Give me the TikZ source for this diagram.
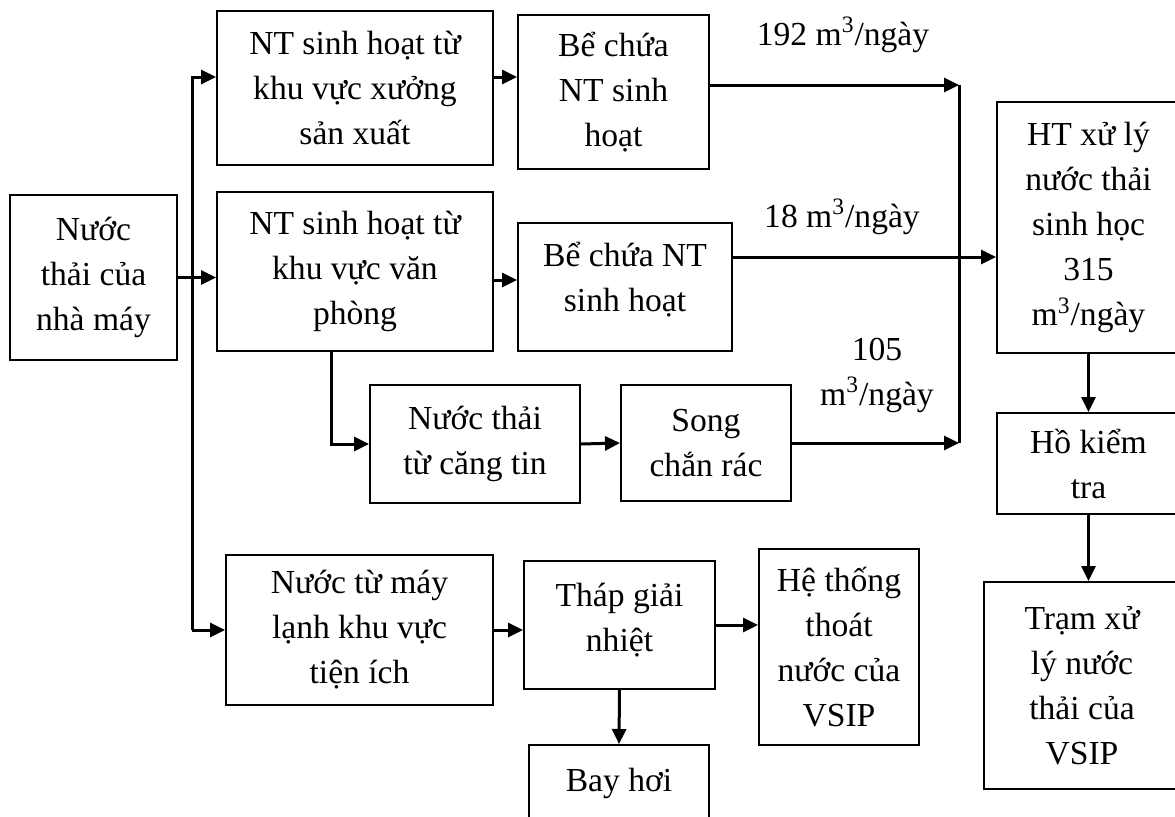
\documentclass[tikz,border=0pt]{standalone}
\usepackage{fontspec}
\setmainfont{Liberation Serif}
\usetikzlibrary{arrows.meta}
\begin{document}
\begin{tikzpicture}[x=0.5pt,y=-0.5pt,
  box/.style={draw, line width=1pt, align=center, inner sep=0pt,
    font=\fontsize{16.8}{22.5}\selectfont},
  lbl/.style={align=center, inner sep=0pt, font=\fontsize{16.8}{22.5}\selectfont},
  arr/.style={-{Triangle[length=7.5pt,width=7pt]}, line width=1.5pt},
  ln/.style={line width=1.5pt}]
\useasboundingbox (0,0) rectangle (1175,816);
% boxes
\node[box, minimum width=83.5pt, minimum height=82.5pt] (b1) at (93.5,277.5) {Nước\\thải của\\nhà máy};
\node[box, minimum width=138pt, minimum height=77pt] (nt1) at (355,88) {NT sinh hoạt từ\\khu vực xưởng\\sản xuất};
\node[box, minimum width=95.5pt, minimum height=77pt] (be1) at (613.5,92) {Bể chứa\\NT sinh\\hoạt};
\node[box, minimum width=138pt, minimum height=79.5pt] (nt2) at (355,271.5) {NT sinh hoạt từ\\khu vực văn\\phòng};
\node[box, minimum width=107pt, minimum height=64pt] (be2) at (625,287) {Bể chứa NT\\sinh hoạt\\[-12.5pt]\mbox{}};
\node[box, minimum width=105pt, minimum height=59pt] (ct) at (475,444) {Nước thải\\từ căng tin};
\node[box, minimum width=85pt, minimum height=58pt] (sc) at (706,443) {Song\\chắn rác};
\node[box, minimum width=91.5pt, minimum height=125.5pt] (ht) at (1088.5,227.5) {HT xử lý\\nước thải\\sinh học\\315\\m\textsuperscript{3}/ngày};
\node[box, minimum width=91.5pt, minimum height=50.5pt] (ho) at (1088.5,463.5) {Hồ kiểm\\tra};
\node[box, minimum width=98pt, minimum height=103.5pt] (tr) at (1082,685.5) {Trạm xử\\lý nước\\thải của\\VSIP};
\node[box, minimum width=133.5pt, minimum height=75pt] (ml) at (359.5,630) {Nước từ máy\\lạnh khu vực\\tiện ích};
\node[box, minimum width=95.5pt, minimum height=64pt] (th) at (619.5,625) {Tháp giải\\nhiệt\\[-14.5pt]\mbox{}};
\node[box, minimum width=80pt, minimum height=98pt] (he) at (839,647) {Hệ thống\\thoát\\nước của\\VSIP};
\node[box, minimum width=90pt, minimum height=38.5pt] (bh) at (619,783.5) {Bay hơi};
% flow labels
\node[lbl] (l192) at (843,35) {192 m\textsuperscript{3}/ngày};
\node[lbl] (l18) at (842,217) {18 m\textsuperscript{3}/ngày};
\node[lbl] (l105) at (877,375) {105\\m\textsuperscript{3}/ngày};
% junction coordinates
\coordinate (trtop) at (192,77);
\coordinate (jtop) at (959,85);
% connectors
\draw[arr] (b1.east) -- (b1.east -| nt2.west);
\draw[arr] (trtop |- ml.west) -- (trtop) -- (trtop -| nt1.west);
\draw[arr] (trtop |- ml.west) -- (ml.west);
\draw[arr] (nt1.east |- trtop) -- (be1.west |- trtop);
\draw[arr] (nt2.east |- 0,280) -- (be2.west |- 0,280);
\draw[arr] (be1.east |- jtop) -- (jtop);
\draw[ln] (jtop) -- (jtop |- sc.east);
\draw[arr] (sc.east) -- (sc.east -| jtop);
\draw[arr] (be2.east |- 0,257) -- (ht.west |- 0,257);
\draw[arr] ([xshift=-12pt]nt2.south) |- (ct.west);
\draw[arr] (ct.east) -- (sc.west);
\draw[arr] (ht.south) -- (ho.north);
\draw[arr] (ho.south) -- (ho.south |- tr.north);
\draw[arr] (ml.east) -- (ml.east -| th.west);
\draw[arr] (th.east) -- (th.east -| he.west);
\draw[arr] (th.south) -- (bh.north);
\end{tikzpicture}
\end{document}
